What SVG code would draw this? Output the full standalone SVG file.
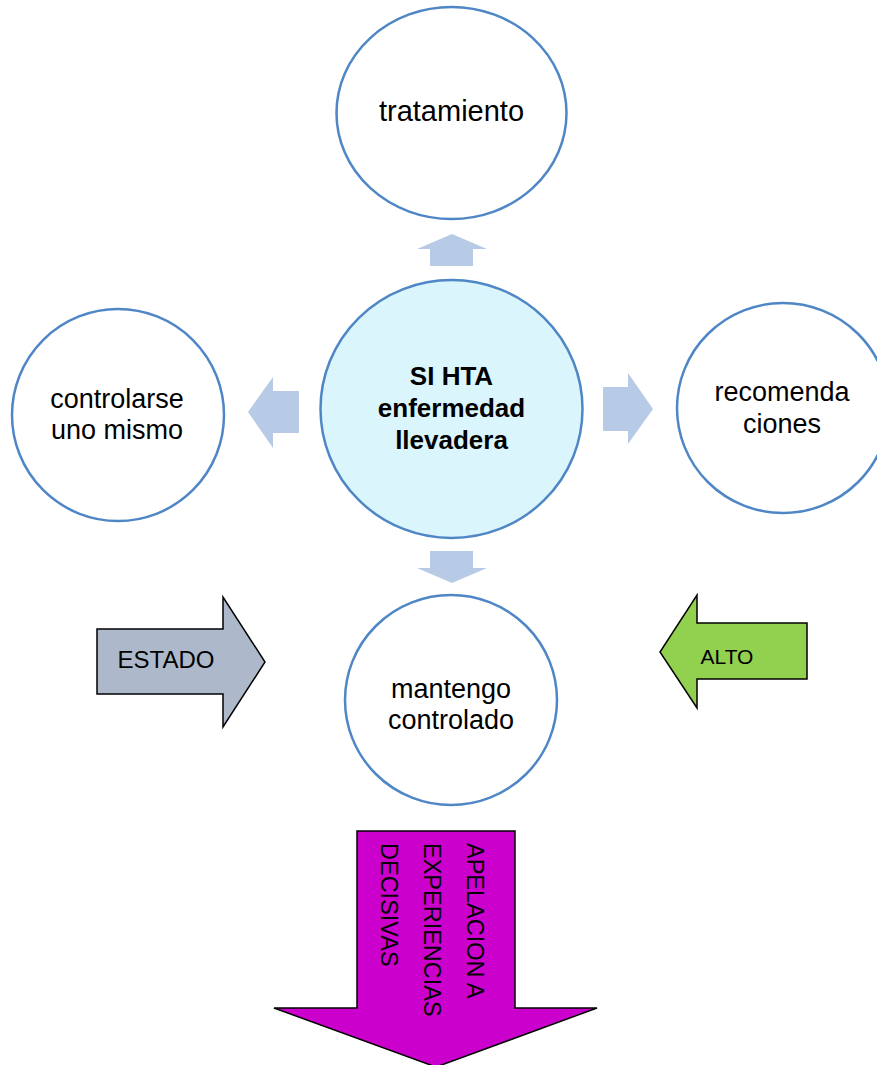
<svg xmlns="http://www.w3.org/2000/svg" width="877" height="1065" viewBox="0 0 877 1065">
  <style>
    .node { fill: #ffffff; stroke: #4f86c6; stroke-width: 2.5; }
    .center { fill: #daf5fc; stroke: #4f86c6; stroke-width: 2.5; }
    .lbl { font-family: "Liberation Sans", Arial, sans-serif; font-size: 27px; fill: #000; text-anchor: middle; }
    .bold { font-weight: bold; font-size: 26px; }
    .conn { fill: #b7cbe6; stroke: none; }
    .big { stroke: #000; stroke-width: 1.5; stroke-linejoin: miter; }
    .blbl { font-family: "Liberation Sans", Arial, sans-serif; font-size: 22px; fill: #000; }
  </style>

  <g id="connectors">
    <polygon class="conn" points="430,266 430,249 417,249 452,234 487,249 473,249 473,266"/>
    <polygon class="conn" points="299,391 273,391 273,377 248,412 273,448 273,433 299,433"/>
    <polygon class="conn" points="603,387 628,387 628,373 653,409 628,444 628,431 603,431"/>
    <polygon class="conn" points="430,551 473,551 473,568 487,568 452,583 417,568 430,568"/>
  </g>

  <g id="node-tratamiento">
    <ellipse class="node" cx="451.5" cy="113" rx="115" ry="106"/>
    <text class="lbl" x="451.5" y="121" style="font-size:29px">tratamiento</text>
  </g>

  <g id="node-center">
    <ellipse class="center" cx="451.5" cy="409" rx="131" ry="129"/>
    <text class="lbl bold" x="451.5" y="385">SI HTA</text>
    <text class="lbl bold" x="451.5" y="417">enfermedad</text>
    <text class="lbl bold" x="451.5" y="449">llevadera</text>
  </g>

  <g id="node-controlarse">
    <ellipse class="node" cx="118" cy="415" rx="106" ry="106"/>
    <text class="lbl" x="117" y="408">controlarse</text>
    <text class="lbl" x="117" y="439">uno mismo</text>
  </g>

  <g id="node-recomendaciones">
    <ellipse class="node" cx="783" cy="408" rx="106" ry="105"/>
    <text class="lbl" x="782" y="401">recomenda</text>
    <text class="lbl" x="782" y="433">ciones</text>
  </g>

  <g id="node-mantengo">
    <ellipse class="node" cx="451" cy="700" rx="106" ry="105"/>
    <text class="lbl" x="451" y="698">mantengo</text>
    <text class="lbl" x="451" y="729">controlado</text>
  </g>

  <g id="node-estado">
    <polygon class="big" fill="#adb9ca" points="97,629 223,629 223,597 265,662 223,727 223,694 97,694"/>
    <text class="blbl" x="166" y="668" text-anchor="middle" style="font-size:24px">ESTADO</text>
  </g>

  <g id="node-alto">
    <polygon class="big" fill="#92d050" points="807,623 697,623 697,595 660,652 697,708 697,679 807,679"/>
    <text class="blbl" x="727" y="664" text-anchor="middle" style="font-size:21px">ALTO</text>
  </g>

  <g id="node-apelacion">
    <polygon class="big" fill="#cc00cc" points="357,831 515,831 515,1008 597,1008 436,1067 274,1008 357,1008"/>
    <text class="blbl" style="font-size:23.5px" transform="translate(467,843) rotate(90)">
      <tspan x="0" y="0">APELACION A</tspan>
      <tspan x="0" y="43">EXPERIENCIAS</tspan>
      <tspan x="0" y="86">DECISIVAS</tspan>
    </text>
  </g>
</svg>
